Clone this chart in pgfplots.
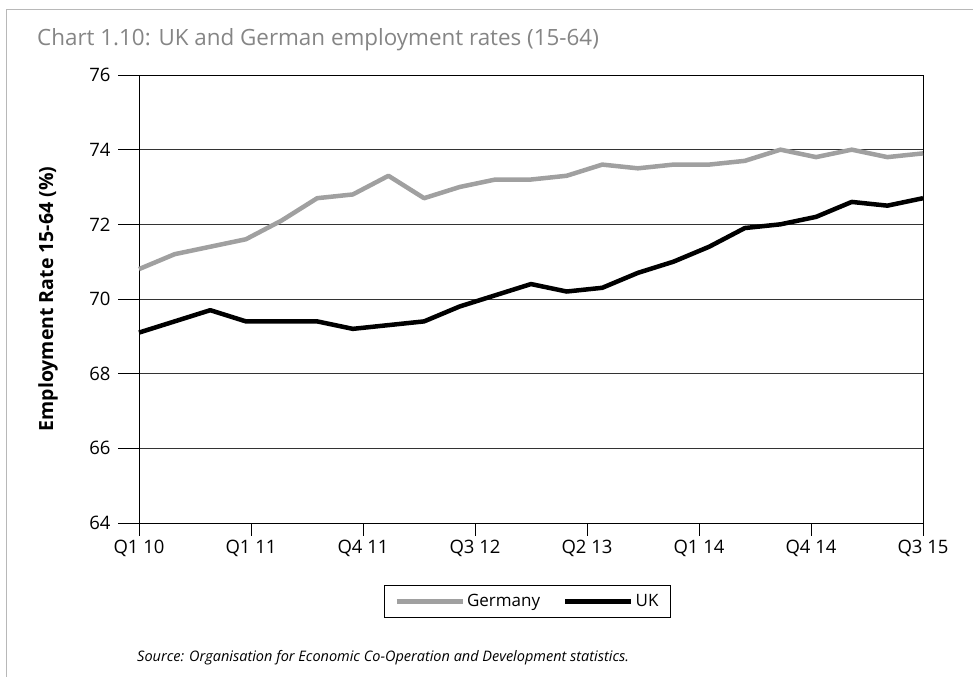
\documentclass[border=0pt]{standalone}
\usepackage{fontspec}
\setmainfont{Open Sans}
\usepackage{pgfplots}
\pgfplotsset{compat=1.18}
\pgfplotsset{mylegend/.style={legend image code/.code={\draw[##1] (8bp,0bp) -- (59bp,0bp); \path (0bp,0bp) -- (66bp,0bp);}}}
\definecolor{ger}{HTML}{A0A0A0}
\definecolor{framec}{HTML}{B8B8B8}
\definecolor{titlegray}{HTML}{858585}
\begin{document}
\begin{tikzpicture}[x=1bp,y=1bp]
\path[use as bounding box] (0,0) rectangle (973,677);
\draw[framec, line width=1.5bp] (6.5,0) -- (6.5,667.5) -- (973,667.5);
\node[anchor=west, text=titlegray, font=\fontsize{22.4bp}{26bp}\selectfont, inner sep=0] at (37,637) {Chart 1.10: UK and German employment rates (15-64)};
\node[anchor=west, font=\fontsize{14.5bp}{17bp}\selectfont\itshape, inner sep=0] at (137,19) {Source: Organisation for Economic Co-Operation and Development statistics.};
\begin{axis}[
  at={(139bp,154bp)}, anchor=south west,
  scale only axis, width=784bp, height=448bp,
  xmin=0, xmax=22, ymin=64, ymax=76,
  clip=false,
  ytick={64,66,...,76},
  xtick={0,3.142857,6.285714,9.428571,12.571429,15.714286,18.857143,22},
  xticklabels={Q1 10,Q1 11,Q4 11,Q3 12,Q2 13,Q1 14,Q4 14,Q3 15},
  ymajorgrids, major grid style={black!80, line width=0.8bp},
  axis line style={black, line width=0.8bp},
  tick align=outside, major tick length=13bp,
  xtick pos=bottom, ytick pos=left,
  xtick style={black, line width=0.8bp},
  ytick style={draw=none},
  /pgf/number format/assume math mode=true,
  tick label style={font=\fontsize{18.5bp}{20bp}\selectfont},
  xticklabel style={yshift=-1bp},
  yticklabel style={xshift=-12bp},
  ylabel={Employment Rate 15-64 (\%)},
  ylabel style={at={(axis description cs:-0.1160,0.5)}, anchor=center, font=\fontsize{19.5bp}{22bp}\selectfont\bfseries},
  legend columns=2,
  legend style={at={(axis description cs:0.4955,-0.175)}, anchor=center, draw=black, line width=0.8bp,
    font=\fontsize{17bp}{19bp}\selectfont, inner xsep=10bp, inner ysep=7bp,
    /tikz/every even column/.append style={column sep=21bp}},
]
\addplot[ger, line width=4.5bp, line join=round, mylegend] coordinates {
(0,70.8) (1,71.2) (2,71.4) (3,71.6) (4,72.1) (5,72.7) (6,72.8) (7,73.3) (8,72.7) (9,73.0) (10,73.2) (11,73.2) (12,73.3) (13,73.6) (14,73.5) (15,73.6) (16,73.6) (17,73.7) (18,74.0) (19,73.8) (20,74.0) (21,73.8) (22,73.9)};
\addlegendentry{Germany}
\addplot[black, line width=4.5bp, line join=round, mylegend] coordinates {
(0,69.1) (1,69.4) (2,69.7) (3,69.4) (4,69.4) (5,69.4) (6,69.2) (7,69.3) (8,69.4) (9,69.8) (10,70.1) (11,70.4) (12,70.2) (13,70.3) (14,70.7) (15,71.0) (16,71.4) (17,71.9) (18,72.0) (19,72.2) (20,72.6) (21,72.5) (22,72.7)};
\addlegendentry{UK}
\pgfplotsinvokeforeach{64,66,68,70,72,74,76}{\draw[black, line width=0.8bp] (axis cs:0,#1) -- ++(-21bp,0bp);}
\end{axis}
\end{tikzpicture}
\end{document}
